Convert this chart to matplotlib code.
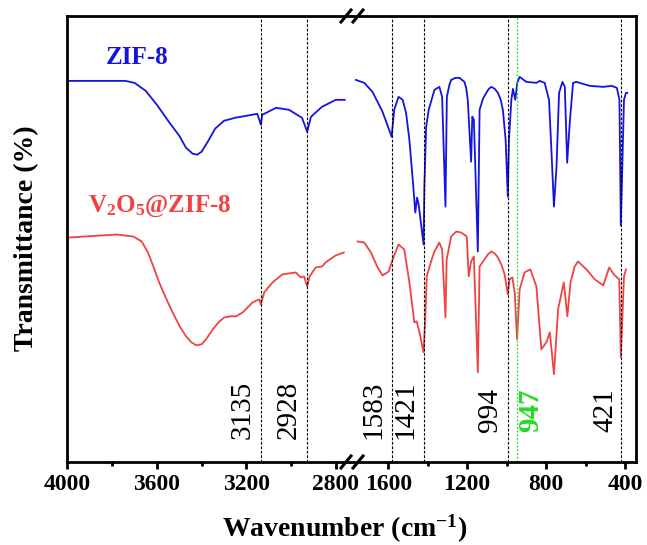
"""
FTIR spectra of ZIF-8 and V2O5@ZIF-8 with broken wavenumber axis
"""

import numpy as np
import matplotlib
matplotlib.use('Agg')
import matplotlib.pyplot as plt
from matplotlib.lines import Line2D

plt.rcParams['font.family'] = ['Liberation Serif', 'DejaVu Serif']
plt.rcParams['font.weight'] = 'bold'
plt.rcParams['mathtext.fontset'] = 'custom'
plt.rcParams['mathtext.rm'] = 'Liberation Serif:bold'
plt.rcParams['mathtext.it'] = 'Liberation Serif:bold'
plt.rcParams['mathtext.bf'] = 'Liberation Serif:bold'

#------------------------------------------------------------------------------
# data (transmittance in arbitrary units)

zif_hi_wn = [3996, 3742, 3700, 3650, 3600, 3550, 3500, 3470, 3440, 3420,
             3400, 3370, 3340, 3300, 3250, 3200, 3151, 3135, 3129, 3067,
             3009, 2973, 2951, 2928, 2911, 2862, 2800, 2760]
zif_hi_t = [382, 382, 380, 372, 358, 342, 327, 315, 309, 308,
            311, 322, 334, 342, 345, 347, 349, 338, 348, 355,
            353, 348, 345, 331, 346, 356, 363, 363]

zif_lo_wn = [1764, 1722, 1680, 1629, 1583, 1570, 1548, 1527, 1510, 1493,
             1473, 1463, 1454, 1446, 1421, 1417, 1408, 1395, 1366, 1341,
             1327, 1310, 1303, 1290, 1281, 1260, 1239, 1214, 1205, 1197,
             1180, 1174, 1166, 1146, 1137, 1120, 1103, 1090, 1078, 1060,
             1044, 1030, 1019, 1005, 994, 988, 976, 968, 956, 946,
             934, 900, 849, 832, 807, 785, 773, 760, 747, 734,
             717, 705, 693, 680, 663, 646, 578, 510, 467, 441,
             428, 421, 405, 395, 388]
zif_lo_t = [383, 380, 371, 351, 326, 353, 366, 363, 350, 323,
            276, 250, 265, 258, 218, 276, 336, 353, 373, 376,
            366, 256, 366, 378, 383, 385, 385, 381, 375, 363,
            301, 346, 343, 211, 353, 364, 370, 374, 376, 374,
            370, 363, 353, 323, 266, 323, 363, 374, 363, 380,
            386, 381, 380, 382, 380, 363, 313, 256, 296, 370,
            381, 376, 300, 340, 380, 381, 377, 376, 377, 375,
            363, 237, 363, 370, 370]

v_hi_wn = [3994, 3779, 3705, 3668, 3640, 3616, 3590, 3557, 3530, 3498,
           3470, 3446, 3424, 3400, 3380, 3350, 3320, 3298, 3270, 3246,
           3216, 3172, 3142, 3135, 3120, 3083, 3039, 2979, 2957, 2942,
           2928, 2917, 2890, 2861, 2846, 2801, 2764]
v_hi_t = [225, 228, 226, 221, 210, 196, 180, 163, 150, 136,
          126, 120, 117, 118, 123, 133, 141, 145, 146, 146,
          150, 160, 163, 158, 170, 180, 188, 190, 185, 186,
          176, 186, 195, 196, 200, 207, 210]

v_lo_wn = [1756, 1722, 1688, 1654, 1629, 1598, 1578, 1548, 1519, 1493,
           1468, 1456, 1442, 1421, 1412, 1405, 1383, 1366, 1341, 1327,
           1310, 1304, 1281, 1255, 1230, 1202, 1192, 1180, 1166, 1146,
           1137, 1112, 1095, 1078, 1060, 1044, 1025, 1010, 994, 985,
           971, 959, 947, 934, 909, 880, 849, 824, 798, 781,
           760, 739, 710, 692, 676, 655, 638, 595, 553, 510,
           480, 456, 429, 421, 405, 395]
v_lo_t = [221, 220, 210, 195, 187, 191, 203, 218, 213, 180,
          140, 141, 130, 110, 146, 186, 201, 211, 220, 213,
          145, 203, 226, 231, 230, 226, 186, 201, 206, 90,
          196, 203, 208, 211, 209, 205, 197, 188, 168, 183,
          185, 170, 123, 173, 190, 193, 176, 113, 120, 130,
          88, 153, 180, 146, 180, 196, 201, 193, 183, 177,
          195, 188, 183, 105, 186, 193]

peaks_hi = [3135, 2928]
peaks_lo = [1583, 1421, 994, 947, 421]
green_peak = 947

blue = '#1414e0'
red = '#ef4343'
green = '#22dd22'

#------------------------------------------------------------------------------

fig = plt.figure(figsize=(6.47, 5.45), dpi=100)

ax1 = fig.add_axes([0.1043, 0.1523, 0.4382, 0.8183])
ax2 = fig.add_axes([0.5425, 0.1523, 0.4405, 0.8183])

ax1.plot(zif_hi_wn, zif_hi_t, color=blue, lw=1.3)
ax1.plot(v_hi_wn, v_hi_t, color=red, lw=1.3)
ax2.plot(zif_lo_wn, zif_lo_t, color=blue, lw=1.3)
ax2.plot(v_lo_wn, v_lo_t, color=red, lw=1.3)

ax1.set_xlim(4000, 2732)
ax2.set_xlim(1789, 344)
for ax in (ax1, ax2):
    ax.set_ylim(0, 447)
    ax.set_yticks([])
    for s in ax.spines.values():
        s.set_linewidth(2.0)
    ax.tick_params(axis='x', direction='out', length=5, width=2,
                   labelsize=17, pad=4)
    ax.tick_params(axis='x', which='minor', direction='out', length=3, width=2)
    for lab in ax.get_xticklabels():
        lab.set_fontweight('bold')

ax1.spines['right'].set_visible(False)
ax2.spines['left'].set_visible(False)

ax1.set_xticks([4000, 3600, 3200, 2800])
ax1.set_xticks([3800, 3400, 3000], minor=True)
ax2.set_xticks([1600, 1200, 800, 400])
ax2.set_xticks([1400, 1000, 600], minor=True)

# peak marker lines and labels
dash = dict(color='black', lw=0.8, dashes=(2.5, 1.5))
for p in peaks_hi:
    ax1.axvline(p, **dash)
    ax1.annotate(str(p), xy=(p, 52), xytext=(-13, 0), textcoords='offset points',
                 rotation=90, ha='center', va='center', fontsize=21,
                 fontweight='normal')
for p in peaks_lo:
    if p == green_peak:
        ax2.axvline(p, color=green, lw=0.9, dashes=(1.5, 1.5))
        ax2.annotate(str(p), xy=(p, 52), xytext=(10, 0), textcoords='offset points',
                     rotation=90, ha='center', va='center', fontsize=21,
                     fontweight='bold', color=green)
    else:
        ax2.axvline(p, **dash)
        off = -11 if p == 421 else -13
        ax2.annotate(str(p), xy=(p, 52), xytext=(off, 0), textcoords='offset points',
                     rotation=90, ha='center', va='center', fontsize=21,
                     fontweight='normal')

# sample labels
fig.text(137/647, 1 - 57/545, 'ZIF-8', color=blue, fontsize=18,
         fontweight='bold', ha='center', va='center')
fig.text(88/647, 1 - 212/545, r'V$_2$O$_5$@ZIF-8', color=red, fontsize=18,
         fontweight='bold', ha='left', va='baseline')

# axis labels
fig.text(27/647, 1 - 238/545, 'Transmittance (%)', rotation=90, fontsize=20,
         fontweight='bold', ha='center', va='center')
fig.text(345/647, 1 - 537/545, r'Wavenumber (cm$^{-1}$)', fontsize=20,
         fontweight='bold', ha='center', va='baseline')

# break marks
W, H = 647.0, 545.0
for yb in (16, 462):
    for cx in (346, 358):
        fig.add_artist(Line2D([(cx - 5) / W, (cx + 5) / W],
                              [1 - (yb + 6) / H, 1 - (yb - 6) / H],
                              transform=fig.transFigure, color='black', lw=2.2))

fig.savefig('out.png', dpi=100)
